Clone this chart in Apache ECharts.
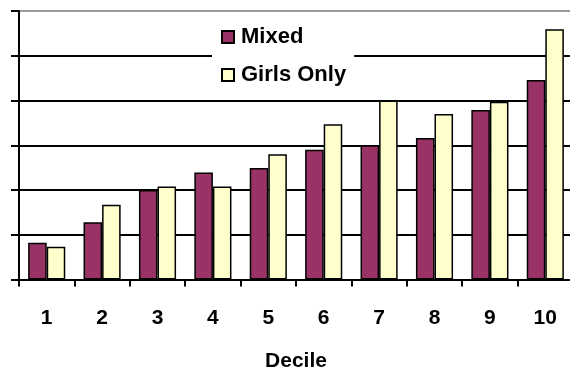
<!DOCTYPE html>
<html>
<head>
<meta charset="utf-8">
<script src="https://cdn.jsdelivr.net/npm/echarts@6/dist/echarts.min.js"></script>
<style>
  html, body { margin: 0; padding: 0; background: #fff; }
  #chart { width: 570px; height: 369px; }
</style>
</head>
<body>
<div id="chart"></div>
<script>
// Decile scores by school type
var deciles = ['1', '2', '3', '4', '5', '6', '7', '8', '9', '10'];
var mixed = [0.82, 1.28, 2.0, 2.39, 2.49, 2.9, 3.0, 3.16, 3.79, 4.46];
var girlsOnly = [0.73, 1.67, 2.08, 2.08, 2.8, 3.47, 4.0, 3.7, 3.97, 5.59];

var FONT = '"Liberation Sans", Arial, sans-serif';

var chart = echarts.init(document.getElementById('chart'), null, { renderer: 'canvas' });

chart.setOption({
  animation: false,
  backgroundColor: '#fff',
  textStyle: { fontFamily: FONT },
  legend: {
    orient: 'vertical',
    left: 212,
    top: 12,
    padding: [14, 8, 12, 9],
    backgroundColor: '#fff',
    itemWidth: 12,
    itemHeight: 12,
    itemGap: 16,
    icon: 'rect',
    textStyle: {
      fontFamily: FONT,
      fontSize: 22,
      fontWeight: 'bold',
      color: '#000',
      lineHeight: 22,
      padding: [0, 0, 0, 2]
    },
    data: ['Mixed', 'Girls Only']
  },
  grid: {
    left: 19,
    top: 11,
    width: 554,
    height: 268.5,
    containLabel: false,
    outerBoundsMode: 'none'
  },
  xAxis: {
    type: 'category',
    data: deciles,
    name: 'Decile',
    nameLocation: 'middle',
    nameGap: 71,
    nameTextStyle: {
      fontFamily: FONT,
      fontSize: 21,
      fontWeight: 'bold',
      color: '#000'
    },
    axisLine: { show: true, lineStyle: { color: '#000', width: 2 } },
    axisTick: { show: true, length: 7, lineStyle: { color: '#000', width: 2 } },
    axisLabel: {
      margin: 28,
      fontFamily: FONT,
      fontSize: 21,
      fontWeight: 'bold',
      color: '#000'
    },
    splitLine: { show: false }
  },
  yAxis: {
    type: 'value',
    min: 0,
    max: 6,
    interval: 1,
    axisLine: { show: true, lineStyle: { color: '#000', width: 2 } },
    axisTick: { show: true, length: 8, lineStyle: { color: '#000', width: 2 } },
    axisLabel: { show: false },
    splitLine: {
      show: true,
      lineStyle: {
        width: 2,
        color: ['#000', '#000', '#000', '#000', '#000', '#000', '#9a9a9a']
      }
    }
  },
  series: [
    {
      name: 'Mixed',
      type: 'bar',
      data: mixed,
      barGap: '0%',
      barCategoryGap: '33%',
      itemStyle: { color: '#993366', borderColor: '#000', borderWidth: 1.5 }
    },
    {
      name: 'Girls Only',
      type: 'bar',
      data: girlsOnly,
      barGap: '0%',
      barCategoryGap: '33%',
      itemStyle: { color: '#ffffcc', borderColor: '#000', borderWidth: 1.5 }
    }
  ]
});
</script>
</body>
</html>
